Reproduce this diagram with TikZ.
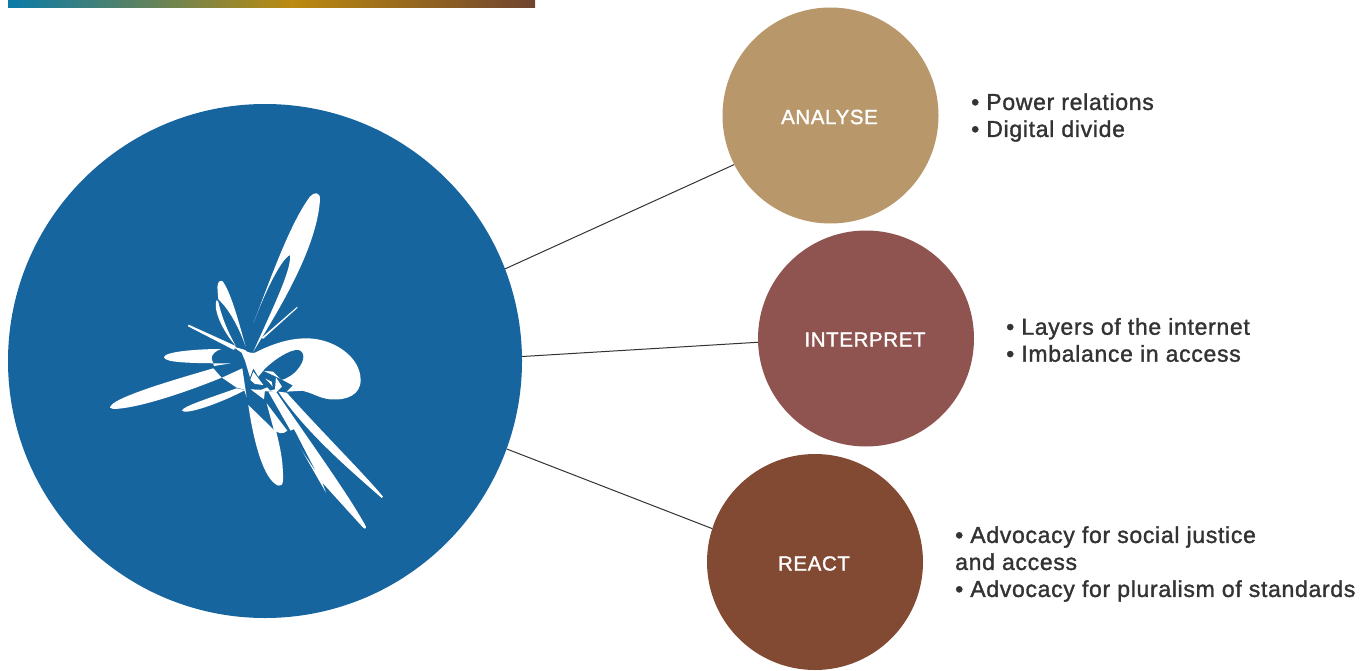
\documentclass[tikz,border=0pt]{standalone}
\usepackage{fontspec}
\setmainfont[RawFeature={embolden=1.4},LetterSpace=3]{Liberation Sans}
\definecolor{mainblue}{HTML}{17659F}
\definecolor{analysecol}{HTML}{B8976B}
\definecolor{interpretcol}{HTML}{8F5450}
\definecolor{reactcol}{HTML}{824933}
\definecolor{textcol}{HTML}{333333}
\definecolor{barleft}{HTML}{0A7BA8}
\definecolor{barmid}{HTML}{BB8A10}
\definecolor{barright}{HTML}{6F4430}
\pgfdeclarehorizontalshading{barfade}{100bp}{color(0bp)=(barleft); color(25bp)=(barleft); color(52bp)=(barmid); color(75bp)=(barright); color(100bp)=(barright)}
\tikzset{
	bigdot/.style={circle, minimum size=216pt, inner sep=0pt},
	tag/.style={text=white, font=\fontsize{20.5}{25}\selectfont},
	notes/.style={anchor=west, align=left, inner sep=0pt, text=textcol, font=\fontsize{23}{27}\selectfont},
	link/.style={draw=textcol, line width=1pt},
	petal/.style={fill=white, draw=none},
	cutout/.style={fill=mainblue, draw=none}
}
\begin{document}
\begin{tikzpicture}[x=1pt,y=-1pt]
	\useasboundingbox (0,0) rectangle (1372,671);
	\fill[shading=barfade] (8,0) rectangle (535,8);

	\node[circle, minimum size=514pt, inner sep=0pt, fill=mainblue] (core) at (265,361) {};
	\node[bigdot, fill=analysecol] (analyse) at (830.5,115.5) {};
	\node[bigdot, fill=interpretcol] (interpret) at (866,338.5) {};
	\node[bigdot, fill=reactcol] (react) at (815,562) {};
	\node[tag] (analysetag) at (829.5,117) {ANALYSE};
	\node[tag] (interprettag) at (865,339.5) {INTERPRET};
	\node[tag] (reacttag) at (814,563.5) {REACT};

	\draw[link] (core.21.4) -- (analyse.207.9);
	\draw[link] (core.1.3) -- (interpret.182.4);
	\draw[link] (core.-20) -- (react.162.7);

	\node[notes] (analysenotes) at (971,117.5) {• Power relations\\• Digital divide};
	\node[notes] (interpretnotes) at (1006,340) {• Layers of the internet\\• Imbalance in access};
	\node[notes] (reactnotes) at (955,564) {• Advocacy for social justice\\and access\\• Advocacy for pluralism of standards};

	\begin{scope}[shift={(90,180)},x=0.3333pt,y=-0.3333pt]
		\fill[petal] (490,515) .. controls (560,400) and (680,210) .. (690,60) .. controls (692,35) and (672,35) .. (660,50) .. controls (600,130) and (540,300) .. (491,428) .. controls (520,350) and (570,240) .. (600,225) .. controls (605,270) and (550,380) .. (490,515);
		\fill[petal] (622,380) -- (622,384) -- (520,476) -- (514,474) -- cycle;
		\fill[petal] (467,500) .. controls (445,420) and (420,330) .. (397,303) .. controls (385,298) and (380,315) .. (383,335) -- (385,358) .. controls (420,390) and (450,450) .. (467,500);
		\fill[petal] (380,360) .. controls (368,385) and (395,450) .. (437,497) .. controls (410,450) and (392,400) .. (385,365) -- cycle;
		\fill[petal] (296,434) -- (437,498) -- (432,510) -- (294,439) -- cycle;
	\end{scope}

	\begin{scope}[shift={(90,340)},x=0.3333pt,y=-0.3333pt]
		\fill[petal] (395,27) .. controls (320,27) and (222,35) .. (222,52) .. controls (225,68) and (300,70) .. (423,70) -- (372,78) -- (365,55) .. controls (365,42) and (380,30) .. (395,27);
		\fill[petal] (370,85) .. controls (250,120) and (60,175) .. (60,203) .. controls (65,215) and (180,200) .. (395,113) -- cycle;
		\fill[petal] (440,145) .. controls (370,170) and (275,200) .. (276,212) .. controls (285,225) and (380,195) .. (466,150) -- cycle;
		\fill[petal] (396,113) -- (457,85) -- (470,172) -- (462,148) -- (440,143) -- cycle;
		\fill[petal] (425,18) -- (465,30) .. controls (470,38) and (490,40) .. (495,38) .. controls (550,10) and (600,-5) .. (650,-5) .. controls (730,-5) and (812,50) .. (812,120) .. controls (812,165) and (770,182) .. (720,178) .. controls (690,175) and (670,160) .. (640,153) -- (575,118) -- (520,92) -- (505,110) -- (490,85) -- (480,112) -- (465,62) -- (455,38) -- cycle;
		\fill[cutout] (520,92) .. controls (550,60) and (600,28) .. (625,30) .. controls (645,35) and (645,60) .. (625,85) .. controls (610,105) and (590,115) .. (575,120) -- (550,95) -- cycle;
		\fill[petal] (575,118) -- (640,152) -- (590,155) -- (610,135) -- cycle;
		\fill[petal] (490,95) -- (503,112) -- (520,135) -- (495,132) -- (481,120) -- cycle;
		\fill[petal] (526,116) -- (545,125) -- (548,140) -- (538,128) -- cycle;
		\fill[petal] (482,148) -- (525,150) -- (522,178) -- cycle;
		\fill[petal] (512,150) -- (532,142) -- (540,152) -- (555,148) -- (558,112) -- (576,140) -- (560,156) -- (530,154) -- cycle;
		\fill[petal] (475,195) .. controls (490,300) and (520,420) .. (565,437) .. controls (582,440) and (580,420) .. (578,380) .. controls (575,340) and (565,300) .. (558,272) -- (550,268) -- cycle;
		\fill[petal] (530,190) -- (551,268) .. controls (560,280) and (580,285) .. (592,272) -- cycle;
		\fill[petal] (535,155) -- (558,155) .. controls (650,290) and (780,470) .. (828,560) .. controls (828,570) and (822,566) .. (815,558) -- (697,428) -- (708,458) -- cycle;
		\fill[cutout] (597,274) -- (675,390) -- (612,268) -- cycle;
		\fill[petal] (565,155) -- (590,158) .. controls (700,280) and (830,410) .. (879,470) -- (875,474) .. controls (780,390) and (650,280) .. (565,155);
	\end{scope}
\end{tikzpicture}
\end{document}
